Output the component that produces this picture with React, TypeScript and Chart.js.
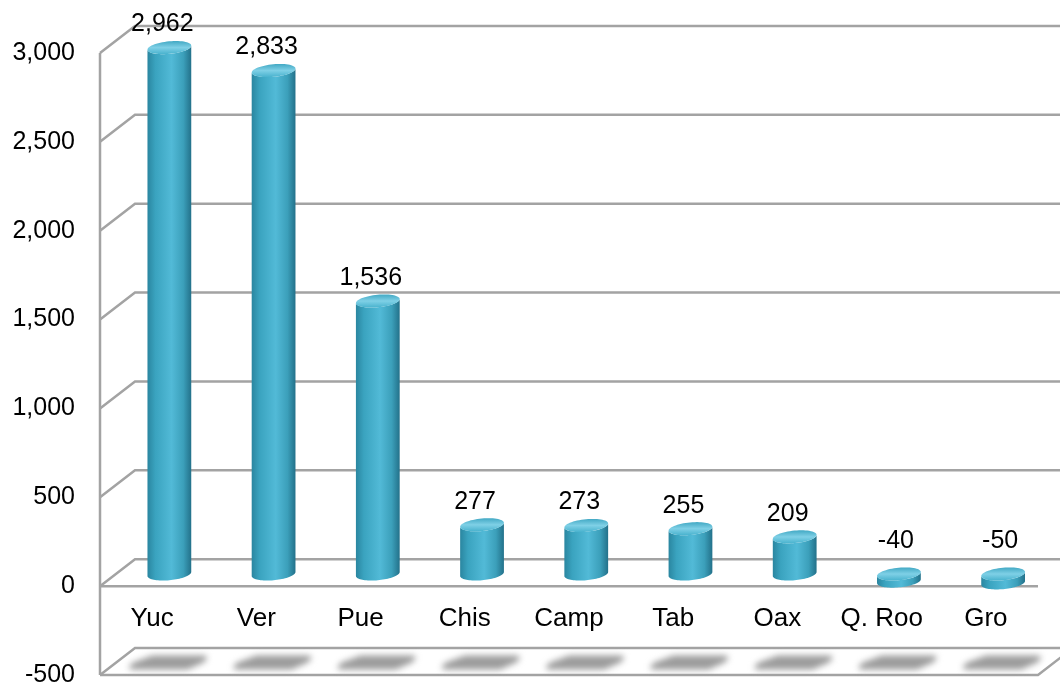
import React, { useEffect, useRef } from "react";
import { Chart, registerables } from "chart.js";

Chart.register(...registerables);

const categories = ["Yuc", "Ver", "Pue", "Chis", "Camp", "Tab", "Oax", "Q. Roo", "Gro"];
const values = [2962, 2833, 1536, 277, 273, 255, 209, -40, -50];
const yMin = -500;
const yMax = 3000;
const yStep = 500;

const FONT = "Liberation Sans, Arial, sans-serif";
const DEPTH_X = 35;
const DEPTH_Y = -27;
const BAR_DEPTH = 0.45;

const fmt = (v: number) => v.toLocaleString("en-US");

function ellPt(cx: number, cy: number, ax: number, ay: number, bx: number, by: number, t: number) {
  return [cx + ax * Math.cos(t) + bx * Math.sin(t), cy + ay * Math.cos(t) + by * Math.sin(t)];
}

const threeD = {
  id: "threeD",
  beforeDatasetsDraw(chart: any) {
    const ctx = chart.ctx;
    const ys = chart.scales.y;
    const area = chart.chartArea;
    const L = area.left, R = area.right;
    ctx.save();
    ctx.lineWidth = 2.5;
    ctx.strokeStyle = "#a3a3a3";
    ctx.lineCap = "butt";
    for (let v = yMin; v <= yMax; v += yStep) {
      const y = ys.getPixelForValue(v);
      ctx.beginPath();
      ctx.moveTo(L, y);
      ctx.lineTo(L + DEPTH_X, y + DEPTH_Y);
      ctx.lineTo(R + DEPTH_X, y + DEPTH_Y);
      ctx.stroke();
    }
    ctx.beginPath();
    ctx.moveTo(L, ys.getPixelForValue(yMax));
    ctx.lineTo(L, ys.getPixelForValue(yMin));
    ctx.stroke();
    const y0 = ys.getPixelForValue(0);
    ctx.beginPath();
    ctx.moveTo(L, y0);
    ctx.lineTo(R, y0);
    ctx.stroke();
    const yf = ys.getPixelForValue(yMin);
    ctx.beginPath();
    ctx.moveTo(L, yf);
    ctx.lineTo(R, yf);
    ctx.lineTo(R + DEPTH_X, yf + DEPTH_Y);
    ctx.stroke();

    // shadows on floor
    const meta = chart.getDatasetMeta(0);
    ctx.fillStyle = "#9c9c9c";
    ctx.filter = "blur(3px)";
    meta.data.forEach((el: any) => {
      const cx = el.x + DEPTH_X * BAR_DEPTH + 1.5;
      const cy = yf + DEPTH_Y * 0.5 + 1;
      ctx.beginPath();
      ctx.moveTo(cx - 17, cy - 7);
      ctx.lineTo(cx + 33, cy - 7);
      ctx.quadraticCurveTo(cx + 42, cy - 7, cx + 34, cy);
      ctx.lineTo(cx + 18, cy + 7);
      ctx.lineTo(cx - 35, cy + 7);
      ctx.quadraticCurveTo(cx - 45, cy + 7, cx - 36, cy);
      ctx.closePath();
      ctx.fill();
    });
    ctx.filter = "none";

    // category labels
    ctx.fillStyle = "#000";
    ctx.font = "26px " + FONT;
    ctx.textAlign = "center";
    ctx.textBaseline = "middle";
    const xs = chart.scales.x;
    chart.data.labels.forEach((lab: string, i: number) => {
      ctx.fillText(lab, xs.getPixelForValue(i), y0 + 33);
    });
    ctx.restore();
  },
  afterDatasetsDraw(chart: any) {
    const ctx = chart.ctx;
    const meta = chart.getDatasetMeta(0);
    const data = chart.data.datasets[0].data;
    ctx.save();
    meta.data.forEach((el: any, i: number) => {
      const hw = el.width / 2;
      const cx = el.x + DEPTH_X * BAR_DEPTH + 1.5;
      const off = DEPTH_Y * BAR_DEPTH;
      const topY = Math.min(el.y, el.base) + off;
      const botY = Math.max(el.y, el.base) + off;
      const bx = 0.3 * hw;
      const by = -0.3 * hw;
      const ax = Math.sqrt(hw * hw - bx * bx);
      const ay = 0;
      const t0 = Math.atan2(bx, ax);
      const grad = ctx.createLinearGradient(cx - hw, 0, cx + hw, 0);
      grad.addColorStop(0, "#2a86a0");
      grad.addColorStop(0.18, "#3aa3bf");
      grad.addColorStop(0.55, "#52bad7");
      grad.addColorStop(0.82, "#3b9fba");
      grad.addColorStop(1, "#23718a");
      ctx.beginPath();
      const N = 40;
      for (let k = 0; k <= N; k++) {
        const t = t0 + Math.PI + (Math.PI * k) / N;
        const [px, py] = ellPt(cx, botY, ax, ay, bx, by, t);
        if (k === 0) ctx.moveTo(px, py);
        else ctx.lineTo(px, py);
      }
      for (let k = 0; k <= N; k++) {
        const t = t0 + 2 * Math.PI - (Math.PI * k) / N;
        const [px, py] = ellPt(cx, topY, ax, ay, bx, by, t);
        ctx.lineTo(px, py);
      }
      ctx.closePath();
      ctx.fillStyle = grad;
      ctx.fill();
      const cg = ctx.createLinearGradient(cx, topY - 7, cx, topY + 7);
      cg.addColorStop(0, "#3ea6c2");
      cg.addColorStop(0.5, "#7fd0e6");
      cg.addColorStop(1, "#45b0cc");
      ctx.beginPath();
      for (let k = 0; k <= 60; k++) {
        const t = (Math.PI * 2 * k) / 60;
        const [px, py] = ellPt(cx, topY, ax, ay, bx, by, t);
        if (k === 0) ctx.moveTo(px, py);
        else ctx.lineTo(px, py);
      }
      ctx.closePath();
      ctx.fillStyle = cg;
      ctx.fill();
      ctx.fillStyle = "#000";
      ctx.font = "25px " + FONT;
      ctx.textAlign = "center";
      ctx.textBaseline = "middle";
      const v = data[i];
      if (v >= 0) ctx.fillText(fmt(v), cx - 7, topY - 23);
      else ctx.fillText(fmt(v), cx - 3, topY - 33);
    });
    ctx.restore();
  },
};

export default function App() {
  const ref = useRef<HTMLCanvasElement>(null);
  useEffect(() => {
    document.body.style.margin = "0";
    const chart = new Chart(ref.current!, {
      type: "bar",
      data: {
        labels: categories,
        datasets: [
          {
            data: values,
            backgroundColor: "rgba(0,0,0,0)",
            borderWidth: 0,
            barPercentage: 0.42,
            categoryPercentage: 1,
          },
        ],
      },
      options: {
        responsive: false,
        animation: false,
        events: [],
        layout: { padding: { top: 53, bottom: 9, right: 22, left: 0 } },
        plugins: { legend: { display: false }, tooltip: { enabled: false } },
        scales: {
          x: { display: false, offset: true },
          y: {
            min: yMin,
            max: yMax,
            afterFit: (s: any) => {
              s.width = 100;
              s.paddingTop = 0;
              s.paddingBottom = 0;
            },
            grid: { display: false, drawTicks: false },
            border: { display: false },
            ticks: {
              stepSize: yStep,
              padding: 25,
              color: "#000",
              font: { size: 25, family: FONT, lineHeight: 0.2 },
              callback: (v: any) => fmt(Number(v)),
            },
          },
        },
      },
      plugins: [threeD],
    });
    return () => chart.destroy();
  }, []);
  return <canvas ref={ref} width={1060} height={684} style={{ display: "block" }} />;
}
